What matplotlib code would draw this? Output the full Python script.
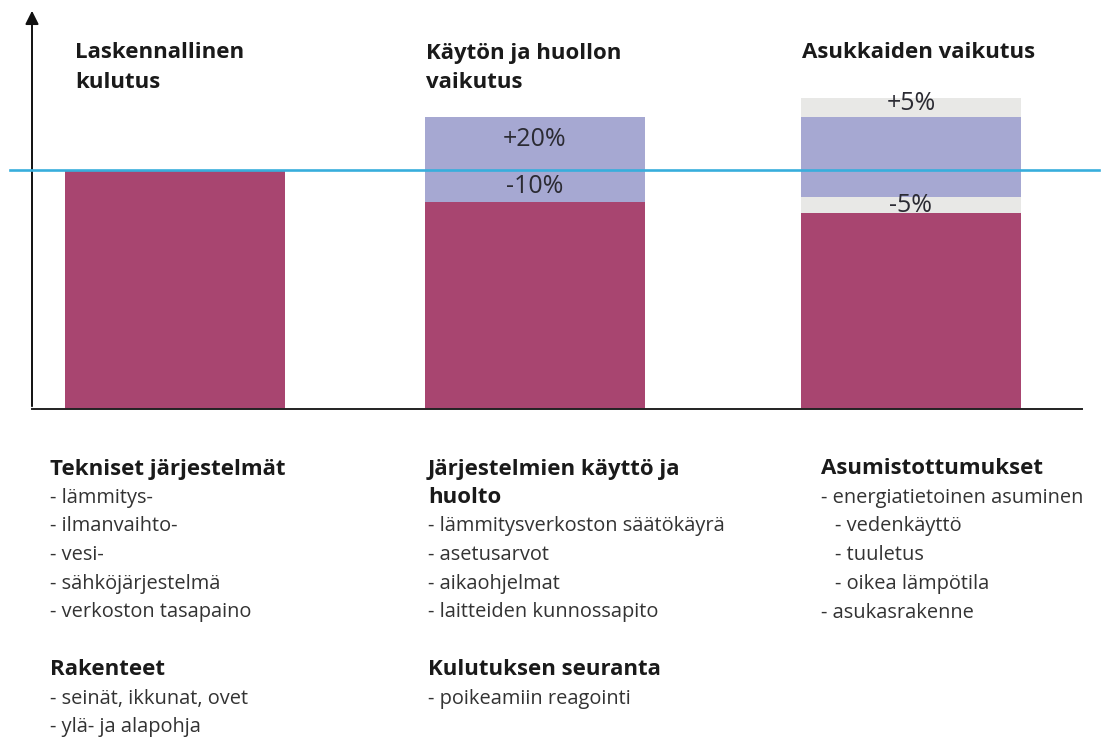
import matplotlib.pyplot as plt
import numpy as np

plt.rcParams['font.family'] = ['Open Sans', 'DejaVu Sans']

# bar data (calculated consumption = 100)
titles = ['Laskennallinen\nkulutus', 'Käytön ja huollon\nvaikutus', 'Asukkaiden vaikutus']
base = np.array([100.0, 86.6, 82.0])       # magenta part
low_gray = np.array([0.0, 0.0, 6.7])       # light band below lavender
lavender = np.array([0.0, 35.6, 33.5])
high_gray = np.array([0.0, 0.0, 7.9])      # light band above lavender
up_labels = ['', '+20%', '+5%']
down_labels = ['', '-10%', '-5%']

# texts below the chart, one list per column: (text, bold, indent)
col1 = [('Tekniset järjestelmät', True, 0), ('- lämmitys-', False, 0), ('- ilmanvaihto-', False, 0),
        ('- vesi-', False, 0), ('- sähköjärjestelmä', False, 0), ('- verkoston tasapaino', False, 0),
        ('', False, 0), ('Rakenteet', True, 0), ('- seinät, ikkunat, ovet', False, 0),
        ('- ylä- ja alapohja', False, 0)]
col2 = [('Järjestelmien käyttö ja', True, 0), ('huolto', True, 0),
        ('- lämmitysverkoston säätökäyrä', False, 0), ('- asetusarvot', False, 0),
        ('- aikaohjelmat', False, 0), ('- laitteiden kunnossapito', False, 0), ('', False, 0),
        ('Kulutuksen seuranta', True, 0), ('- poikeamiin reagointi', False, 0)]
col3 = [('Asumistottumukset', True, 0), ('- energiatietoinen asuminen', False, 0),
        ('- vedenkäyttö', False, 1), ('- tuuletus', False, 1), ('- oikea lämpötila', False, 1),
        ('- asukasrakenne', False, 0)]

magenta = '#a84570'
lav = '#a6a8d2'
gray = '#e8e8e6'
blue = '#38aedc'
W, H = 1101, 740

fig = plt.figure(figsize=(W / 100, H / 100), dpi=100)
ax = fig.add_axes([32 / W, 1 - 409 / H, 1050 / W, 399 / H])
ax.set_xlim(0, 1050)
ax.set_ylim(0, 399 / 2.39)

xpos = np.array([143, 503, 879])
width = 220
ax.bar(xpos, base, width, color=magenta)
ax.bar(xpos, low_gray, width, bottom=base, color=gray)
ax.bar(xpos, lavender, width, bottom=base + low_gray, color=lav)
ax.bar(xpos, high_gray, width, bottom=base + low_gray + lavender, color=gray)

top = base + low_gray + lavender + high_gray
for i in range(len(xpos)):
    if up_labels[i]:
        lo = 100 if high_gray[i] == 0 else top[i] - high_gray[i]
        ax.text(xpos[i], (lo + top[i]) / 2 + 1.5, up_labels[i], ha='center', va='center',
                fontsize=18, color='#2b2b33')
    if down_labels[i]:
        hi = 100 if low_gray[i] == 0 else base[i] + low_gray[i]
        ax.text(xpos[i], (base[i] + hi) / 2, down_labels[i], ha='center', va='center',
                fontsize=18, color='#2b2b33')

# reference line
ax.plot([-22, 1067], [100, 100], color=blue, lw=1.9, clip_on=False, zorder=5)

for s in ['top', 'right', 'left']:
    ax.spines[s].set_visible(False)
ax.spines['bottom'].set_color('#222222')
ax.spines['bottom'].set_linewidth(1.4)
ax.set_xticks([])
ax.set_yticks([])
ax.annotate('', xy=(0, 1.005), xytext=(0, 0), xycoords='axes fraction',
            arrowprops=dict(arrowstyle='-|>', color='#111111', lw=1.4, mutation_scale=20))

# titles above bars
title_x = [75, 426, 802]
for tx, t in zip(title_x, titles):
    for j, line in enumerate(t.split('\n')):
        fig.text(tx / W, 1 - (53 + 29 * j) / H, line, fontsize=16, fontweight='bold',
                 color='#1a1a1a', va='center')

# columns of text below
for cx, col in zip([50, 428, 821], [col1, col2, col3]):
    for j, (line, bold, ind) in enumerate(col):
        if not line:
            continue
        fig.text((cx + 14 * ind) / W, 1 - (469 + 28.7 * j) / H, line,
                 fontsize=16 if bold else 14.4, fontweight='bold' if bold else 'normal',
                 color='#1a1a1a' if bold else '#333333', va='center')

fig.savefig('out.png', dpi=100)
